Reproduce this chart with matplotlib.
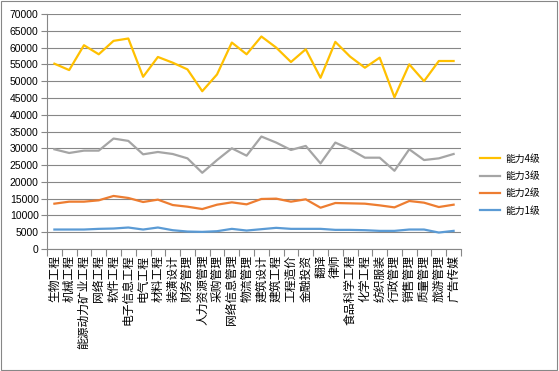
import numpy as np
import matplotlib.pyplot as plt
from matplotlib.patches import Rectangle

plt.rcParams['font.family'] = ['Noto Sans CJK SC', 'DejaVu Sans']

# categories (x axis)
majors = ['生物工程', '机械工程', '能源动力矿业工程', '网络工程', '软件工程',
          '电子信息工程', '电气工程', '材料工程', '装潢设计', '财务管理',
          '人力资源管理', '采购管理', '网络信息管理', '物流管理', '建筑设计',
          '建筑工程', '工程造价', '金融投资', '翻译', '律师',
          '食品科学工程', '化学工程', '纺织服装', '行政管理', '销售管理',
          '质量管理', '旅游管理', '广告传媒']

# salary by ability level
level4 = [55200, 53300, 60700, 58000, 62000, 62700, 51300, 57200, 55500, 53500,
          47000, 52000, 61500, 58000, 63300, 60000, 55700, 59500, 51000, 61700,
          57300, 54000, 57000, 45200, 55000, 50000, 56000, 56000]
level3 = [29700, 28600, 29300, 29300, 32900, 32200, 28200, 28900, 28300, 27000,
          22700, 26500, 30000, 27800, 33500, 31700, 29500, 30700, 25500, 31700,
          29700, 27200, 27200, 23300, 29700, 26500, 27000, 28300]
level2 = [13500, 14100, 14100, 14500, 15800, 15200, 14000, 14700, 13100, 12600,
          11900, 13200, 13900, 13300, 14900, 15000, 14100, 14800, 12300, 13700,
          13600, 13500, 13000, 12400, 14300, 13800, 12500, 13200]
level1 = [5800, 5800, 5800, 6000, 6100, 6400, 5800, 6400, 5600, 5200,
          5100, 5300, 6000, 5500, 5900, 6300, 6000, 6000, 6000, 5700,
          5700, 5600, 5400, 5400, 5800, 5800, 4900, 5400]

series_names = ['能力4级', '能力3级', '能力2级', '能力1级']
colors = ['#FFC000', '#A5A5A5', '#ED7D31', '#5B9BD5']

fig = plt.figure(figsize=(5.59, 3.71), dpi=100)
ax = fig.add_axes([47/559, 1-249/371, 414/559, 235/371])

x = np.arange(len(majors))
for vals, name, c in zip([level4, level3, level2, level1], series_names, colors):
    ax.plot(x, vals, color=c, lw=1.6, label=name, solid_joinstyle='round')

ax.set_xlim(-0.5, len(majors) - 0.5)
ax.set_ylim(0, 70000)
ax.set_yticks(np.arange(0, 70001, 5000))
ax.set_yticklabels([str(v) for v in range(0, 70001, 5000)],
                   fontsize=7.5, family='Liberation Sans')
ax.grid(axis='y', color='#878787', lw=0.8)
ax.set_axisbelow(True)

# category labels between boundary ticks
ax.set_xticks(np.arange(-0.5, len(majors), 1))
ax.set_xticklabels([])
ax.set_xticks(x, minor=True)
ax.set_xticklabels(majors, minor=True, rotation=90, fontsize=8.5)
ax.tick_params(axis='x', which='minor', length=0, pad=4)
ax.tick_params(axis='x', which='major', length=5, color='#878787')
ax.tick_params(axis='y', length=4, color='#878787', pad=2)

for s in ['top', 'right']:
    ax.spines[s].set_visible(False)
for s in ['left', 'bottom']:
    ax.spines[s].set_color('#878787')
    ax.spines[s].set_linewidth(0.8)

ax.legend(loc='upper left', bbox_to_anchor=(472/559, 1-146/371),
          bbox_transform=fig.transFigure, frameon=False, fontsize=7,
          handlelength=2.1, handletextpad=0.5, labelspacing=0.75,
          borderpad=0.3)

fig.patches.append(Rectangle((0.002, 0.003), 0.994, 0.994, transform=fig.transFigure,
                             fill=False, edgecolor='#878787', lw=0.8))

fig.savefig('out.png', dpi=100)
